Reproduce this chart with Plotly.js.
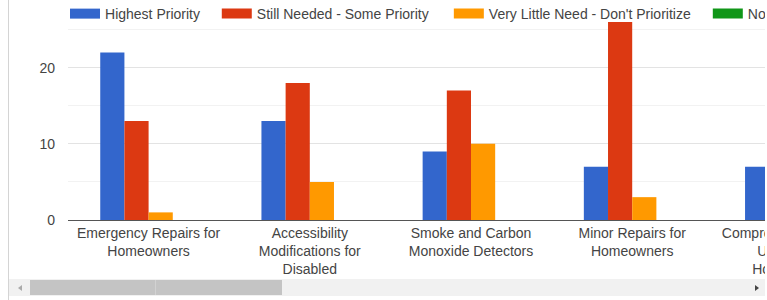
<!DOCTYPE html>
<html><head><meta charset="utf-8">
<script src="https://cdn.plot.ly/plotly-3.0.1.min.js"></script>
<style>
html,body{margin:0;padding:0;background:#fff;width:767px;height:300px;overflow:hidden;}
#frame{position:absolute;left:0;top:0;width:765px;height:300px;overflow:hidden;}
#chart{position:absolute;left:0;top:0;width:880px;height:280px;}
#lborder{position:absolute;left:8px;top:0;width:1px;height:300px;background:#d4d4d4;}
#track{position:absolute;left:9px;top:279px;width:756px;height:17px;background:#f1f1f1;}
#thumb{position:absolute;left:30px;top:280px;width:252px;height:15px;background:#c4c4c4;}
#thumbline{position:absolute;left:155px;top:280px;width:1px;height:15px;background:#d2d2d2;}
#larrow{position:absolute;left:18px;top:285px;width:0;height:0;border-top:3px solid transparent;border-bottom:3px solid transparent;border-right:4px solid #aaa;}
#rarrow{position:absolute;left:755px;top:285px;width:0;height:0;border-top:3px solid transparent;border-bottom:3px solid transparent;border-left:4px solid #444;}
</style>
</head>
<body>
<div id="frame">
  <div id="chart"></div>
  <div id="track"></div>
  <div id="thumb"></div>
  <div id="thumbline"></div>
  <div id="larrow"></div>
  <div id="rarrow"></div>
</div>
<div id="lborder"></div>
<script>
// ---- data ----
const categories = [
  "Emergency Repairs for Homeowners",
  "Accessibility Modifications for Disabled",
  "Smoke and Carbon Monoxide Detectors",
  "Minor Repairs for Homeowners",
  "Comprehensive Rehab Updates for Homeowners"
];
const tickLabels = [
  "Emergency Repairs for<br>Homeowners",
  "Accessibility<br>Modifications for<br>Disabled",
  "Smoke and Carbon<br>Monoxide Detectors",
  "Minor Repairs for<br>Homeowners",
  "Comprehensive Rehab<br>Updates for<br>Homeowners"
];
const seriesNames = [
  "Highest Priority",
  "Still Needed - Some Priority",
  "Very Little Need - Don't Prioritize",
  "Not Needed"
];
const highestPriority = [22, 13, 9, 7, 7];
const someNeeded      = [13, 18, 17, 26, 14];
const littleNeed      = [1, 5, 10, 3, 4];
const notNeeded       = [0, 0, 0, 0, 0];
const seriesColors = ["#3366cc", "#dc3912", "#ff9900", "#109618"];

const seriesValues = [highestPriority, someNeeded, littleNeed, notNeeded];
const FONT = "Liberation Sans, Arial, sans-serif";

// legend entry positions (paper x) — one legend per series, like the original spacing
const legendX = [-0.0037, 0.1846, 0.4725, 0.7938];
const legendIds = ["legend", "legend2", "legend3", "legend4"];

const traces = [];
seriesValues.forEach((vals, i) => {
  traces.push({
    type: "bar", x: categories, y: vals, name: seriesNames[i],
    marker: {color: seriesColors[i]}, showlegend: false, hoverinfo: "skip"
  });
});
// legend swatches (wide rectangles like the original)
seriesNames.forEach((n, i) => {
  traces.push({
    type: "scatter", mode: "lines", x: [null], y: [null], name: n,
    legend: legendIds[i],
    line: {color: seriesColors[i], width: 12}, showlegend: true, hoverinfo: "skip"
  });
});

const layout = {
  width: 880, height: 280,
  margin: {l: 68, r: 6, t: 0, b: 60, autoexpand: false},
  paper_bgcolor: "#fff", plot_bgcolor: "#fff",
  barmode: "group", bargap: 0.4, bargroupgap: 0,
  font: {family: FONT, size: 14, color: "#444"},
  showlegend: true,
  xaxis: {
    type: "category", range: [-0.5, 4.5],
    tickmode: "array", tickvals: categories, ticktext: tickLabels,
    showgrid: false, zeroline: false, showline: true, linecolor: "#555", linewidth: 1,
    ticks: "", tickfont: {family: FONT, size: 14, color: "#444"}, fixedrange: true
  },
  yaxis: {
    range: [0, 28.89], tick0: 0, dtick: 10,
    showgrid: true, gridcolor: "#e3e3e3", gridwidth: 1, zeroline: false, showline: false,
    minor: {dtick: 5, showgrid: true, gridcolor: "#f2f2f2", gridwidth: 1},
    ticks: "", ticklabelstandoff: 12,
    tickfont: {family: FONT, size: 14, color: "#444"}, fixedrange: true
  }
};
legendIds.forEach((id, i) => {
  layout[id] = {
    orientation: "h", x: legendX[i], xanchor: "left", y: 1.009, yanchor: "top",
    font: {family: FONT, size: 14, color: "#444"},
    bgcolor: "rgba(0,0,0,0)", itemwidth: 30, borderwidth: 0
  };
});

Plotly.newPlot("chart", traces, layout, {displayModeBar: false, staticPlot: true});
</script>
</body></html>
